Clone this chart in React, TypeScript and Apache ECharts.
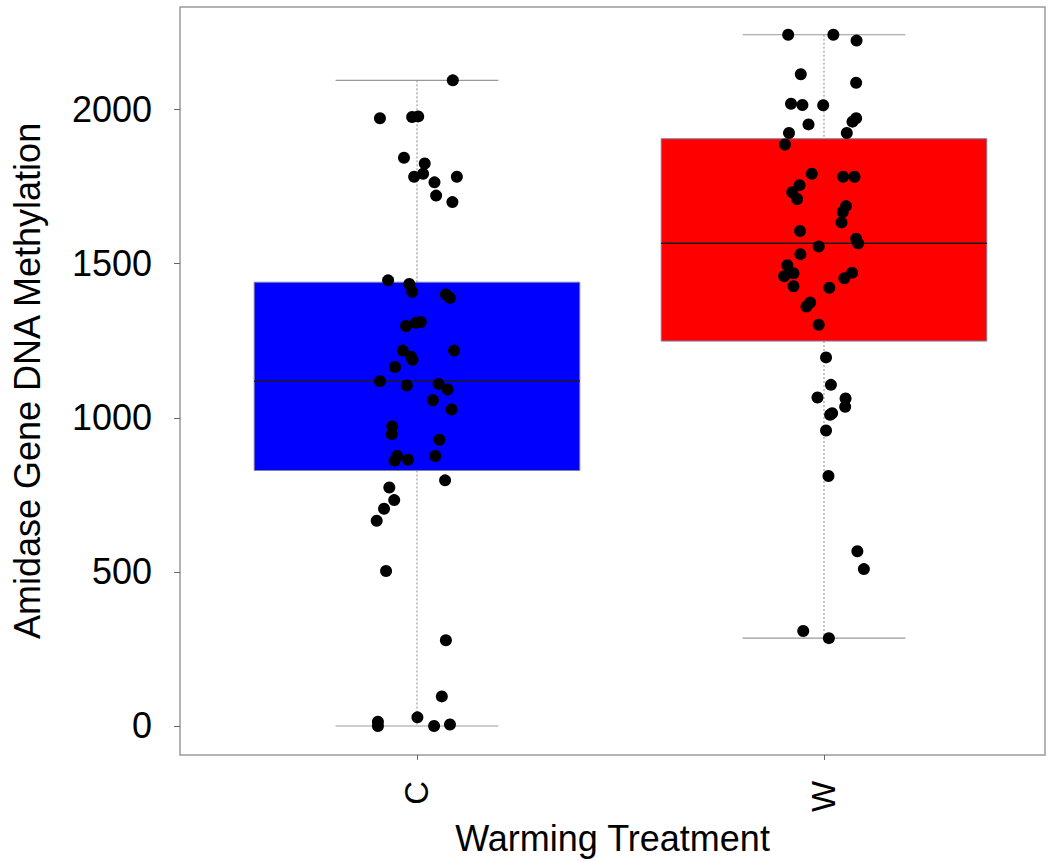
import React, { useEffect, useRef } from "react";
import * as echarts from "echarts";

// ---- Data ----
const categories = ["C", "W"];
const yTickValues = [0, 500, 1000, 1500, 2000];

// Control (C) group: methylation values and horizontal jitter (category units)
const cValues = [
  2095, 1972, 1976, 1978, 1844, 1825, 1792, 1782, 1764, 1782, 1721, 1700,
  1446, 1434, 1409, 1400, 1389, 1298, 1308, 1311, 1218, 1218, 1198, 1188,
  1165, 1119, 1105, 1110, 1092, 1057, 1027, 972, 947, 929, 876, 861, 864,
  876, 797, 774, 733, 705, 666, 503, 278, 96, 28, 14, 0, 0, 5,
];
const cJitter = [
  0.088, -0.091, -0.012, 0.003, -0.032, 0.019, 0.015, -0.007, 0.043, 0.098,
  0.047, 0.087, -0.071, -0.019, -0.012, 0.071, 0.081, -0.027, -0.003, 0.009,
  -0.035, 0.091, -0.015, -0.011, -0.054, -0.091, -0.025, 0.053, 0.075, 0.039,
  0.085, -0.061, -0.062, 0.055, -0.049, -0.055, -0.022, 0.045, 0.069, -0.068,
  -0.056, -0.081, -0.099, -0.076, 0.071, 0.061, 0.001, -0.096, -0.096, 0.042,
  0.081,
];

// Warming (W) group
const wValues = [
  2243, 2243, 2224, 2115, 2087, 2019, 2015, 2014, 1952, 1972, 1961, 1924,
  1924, 1887, 1792, 1782, 1782, 1755, 1732, 1710, 1687, 1668, 1634, 1606,
  1581, 1566, 1556, 1531, 1495, 1469, 1459, 1471, 1453, 1427, 1422, 1374,
  1361, 1302, 1196, 1107, 1066, 1063, 1036, 1015, 1010, 959, 811, 567, 509,
  308, 285,
];
const wJitter = [
  -0.088, 0.023, 0.08, -0.057, 0.079, -0.081, -0.053, -0.002, -0.038, 0.079,
  0.07, -0.086, 0.056, -0.096, -0.03, 0.047, 0.075, -0.06, -0.078, -0.066,
  0.054, 0.046, 0.043, -0.059, 0.079, 0.084, -0.013, -0.058, -0.09, -0.075,
  -0.098, 0.069, 0.05, -0.075, 0.013, -0.034, -0.043, -0.013, 0.005, 0.017,
  -0.016, 0.053, 0.052, 0.02, 0.015, 0.005, 0.011, 0.082, 0.098, -0.051,
  0.012,
];

const boxColors = ["#0000ff", "#ff0000"];

// R-style boxplot.stats (Tukey hinges, 1.5 IQR whiskers)
function boxStats(vals: number[]): number[] {
  const x = [...vals].sort((a, b) => a - b);
  const n = x.length;
  const n4 = Math.floor((n + 3) / 2) / 2;
  const d = [1, n4, (n + 1) / 2, n + 1 - n4, n];
  const f = d.map((di) => 0.5 * (x[Math.floor(di) - 1] + x[Math.ceil(di) - 1]));
  const iqr = f[3] - f[1];
  const inside = x.filter((v) => v >= f[1] - 1.5 * iqr && v <= f[3] + 1.5 * iqr);
  return [Math.min(...inside), f[1], f[2], f[3], Math.max(...inside)];
}

export default function App() {
  const ref = useRef<HTMLDivElement>(null);

  useEffect(() => {
    if (!ref.current) return;
    const chart = echarts.init(ref.current, null, { renderer: "svg" });

    const groups = [cValues, wValues];
    const jitters = [cJitter, wJitter];
    const boxData = groups.map((g, i) => [i + 1, ...boxStats(g)]);
    const pointData: number[][] = [];
    groups.forEach((g, i) =>
      g.forEach((v, j) => pointData.push([i + 1 + jitters[i][j], v]))
    );

    const font = "'Liberation Sans', Arial, sans-serif";

    chart.setOption({
      animation: false,
      backgroundColor: "#ffffff",
      grid: {
        left: 180,
        right: 5,
        top: 7,
        bottom: 104,
        show: true,
        borderColor: "#9a9a9a",
        borderWidth: 1.5,
        backgroundColor: "transparent",
      },
      xAxis: {
        type: "value",
        min: 0.4177,
        max: 2.543,
        name: "Warming Treatment",
        nameLocation: "middle",
        nameGap: 62,
        nameTextStyle: { fontFamily: font, fontSize: 36, color: "#000" },
        axisLine: { show: false, onZero: false },
        splitLine: { show: false },
        axisTick: {
          show: true,
          length: 5,
          customValues: [1, 2],
          lineStyle: { color: "#666", width: 1 },
        },
        axisLabel: {
          customValues: [1, 2],
          rotate: 90,
          margin: 26,
          fontFamily: font,
          fontSize: 33,
          color: "#000",
          formatter: (v: number) => categories[Math.round(v) - 1] ?? "",
        },
      },
      yAxis: {
        type: "value",
        min: -94,
        max: 2333,
        name: "Amidase Gene DNA Methylation",
        nameLocation: "middle",
        nameRotate: 90,
        nameGap: 135,
        nameTextStyle: { fontFamily: font, fontSize: 36, color: "#000" },
        axisLine: { show: false, onZero: false },
        splitLine: { show: false },
        axisTick: {
          show: true,
          length: 6,
          customValues: yTickValues,
          lineStyle: { color: "#666", width: 1 },
        },
        axisLabel: {
          customValues: yTickValues,
          margin: 28,
          fontFamily: font,
          fontSize: 36,
          color: "#000",
          formatter: (v: number) => String(v),
        },
      },
      series: [
        {
          type: "custom",
          data: boxData,
          encode: { x: 0, y: [1, 2, 3, 4, 5] },
          z: 2,
          renderItem: (params: any, api: any) => {
            const x = api.value(0);
            const lo = api.coord([x, api.value(1)]);
            const q1 = api.coord([x, api.value(2)]);
            const med = api.coord([x, api.value(3)]);
            const q3 = api.coord([x, api.value(4)]);
            const hi = api.coord([x, api.value(5)]);
            const halfBox = api.size([0.8, 0])[0] / 2;
            const halfCap = api.size([0.4, 0])[0] / 2;
            const cx = q1[0];
            const color = boxColors[params.dataIndex];
            const whiskerStyle = { stroke: "#888", lineWidth: 1, lineDash: [2, 2] };
            const capStyle = { stroke: "#999", lineWidth: 1.2 };
            return {
              type: "group",
              children: [
                { type: "line", shape: { x1: cx, y1: hi[1], x2: cx, y2: q3[1] }, style: whiskerStyle },
                { type: "line", shape: { x1: cx, y1: q1[1], x2: cx, y2: lo[1] }, style: whiskerStyle },
                { type: "line", shape: { x1: cx - halfCap, y1: hi[1], x2: cx + halfCap, y2: hi[1] }, style: capStyle },
                { type: "line", shape: { x1: cx - halfCap, y1: lo[1], x2: cx + halfCap, y2: lo[1] }, style: capStyle },
                {
                  type: "rect",
                  shape: { x: cx - halfBox, y: q3[1], width: halfBox * 2, height: q1[1] - q3[1] },
                  style: { fill: color, stroke: "#8080a0", lineWidth: 1 },
                },
                {
                  type: "line",
                  shape: { x1: cx - halfBox, y1: med[1], x2: cx + halfBox, y2: med[1] },
                  style: { stroke: "#1a1a1a", lineWidth: 1.5 },
                },
              ],
            };
          },
        },
        {
          type: "scatter",
          data: pointData,
          symbol: "circle",
          symbolSize: 12,
          itemStyle: { color: "#000", opacity: 1 },
          z: 3,
        },
      ],
    });

    return () => chart.dispose();
  }, []);

  return (
    <div
      ref={ref}
      style={{ position: "fixed", left: 0, top: 0, width: 1050, height: 861 }}
    />
  );
}
